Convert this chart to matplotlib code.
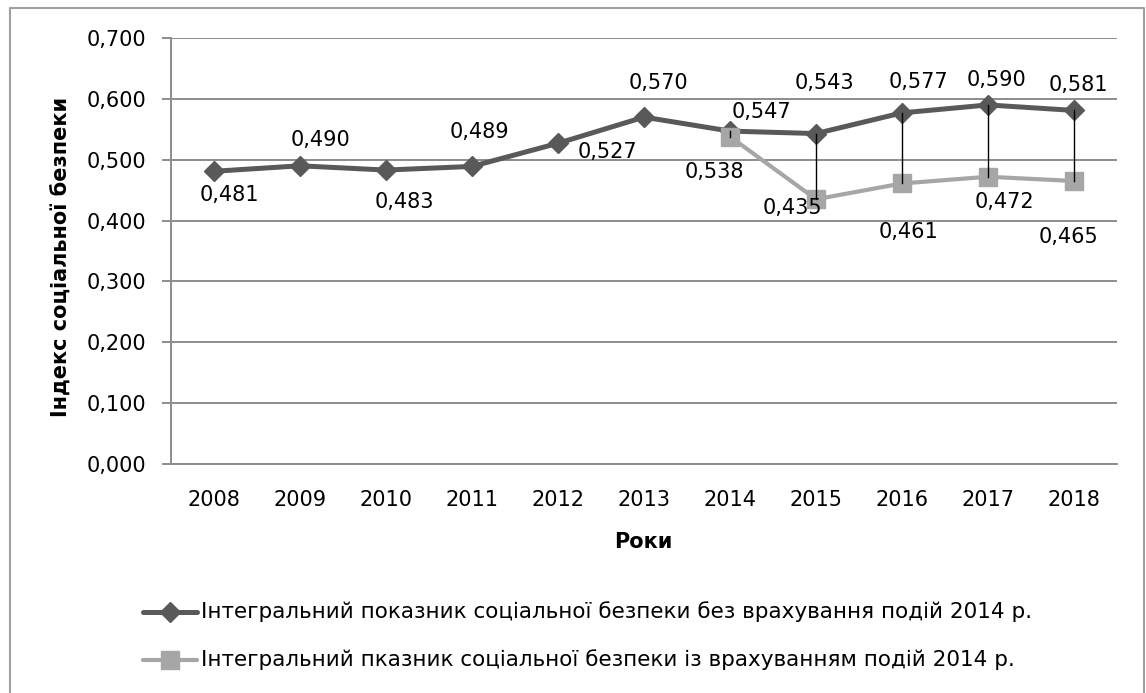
import matplotlib
matplotlib.use("Agg")
import matplotlib.pyplot as plt
from matplotlib.lines import Line2D
from matplotlib.ticker import FuncFormatter

plt.rcParams['font.family'] = ['DejaVu Sans']

# Data
years = ['2008', '2009', '2010', '2011', '2012', '2013', '2014', '2015', '2016', '2017', '2018']
base_index = [0.481, 0.490, 0.483, 0.489, 0.527, 0.570, 0.547, 0.543, 0.577, 0.590, 0.581]
adj_years = ['2014', '2015', '2016', '2017', '2018']
adj_index = [0.538, 0.435, 0.461, 0.472, 0.465]

base_label = 'Інтегральний показник соціальної безпеки без врахування подій 2014 р.'
adj_label = 'Інтегральний пказник соціальної безпеки із врахуванням подій 2014 р.'
x_title = 'Роки'
y_title = 'Індекс соціальної безпеки'

# Label offsets in pixels (dx, dy with y pointing up)
base_offsets = [(15, -24), (20, 26), (18, -32), (7, 34), (49, -9), (14, 34),
                (31, 19), (8, 51), (16, 31), (8, 25), (4, 25)]
adj_offsets = [(-16, -35), (-24, -9), (7, -49), (16, -25), (-6, -56)]

W, H = 1146, 693
DARK = '#595959'
LIGHT = '#A6A6A6'
GRID = '#8C8C8C'
FS = 15

fig = plt.figure(figsize=(W / 100, H / 100), dpi=100)
fig.patch.set_facecolor('white')

# Chart frame (left, top, right)
fx0, fx1, fy0 = 10 / W, 1144 / W, 1 - 8 / H
fig.add_artist(Line2D([fx0, fx0, fx1, fx1], [0, fy0, fy0, 0], transform=fig.transFigure,
                      color='#A0A0A0', lw=1.5))

ax = fig.add_axes([171 / W, 1 - 464 / H, 946 / W, 426 / H])
xb = list(range(len(years)))
xa = [years.index(y) for y in adj_years]

ax.set_xlim(-0.5, len(years) - 0.5)
ax.set_ylim(0, 0.7)
ax.set_yticks([i / 10 for i in range(8)])
ax.yaxis.set_major_formatter(FuncFormatter(lambda v, p: f'{v:.3f}'.replace('.', ',')))
ax.set_xticks(xb)
ax.set_xticklabels(years)
ax.grid(axis='y', color=GRID, lw=1.4)
ax.set_axisbelow(True)
for s in ['top', 'right']:
    ax.spines[s].set_visible(False)
for s in ['left', 'bottom']:
    ax.spines[s].set_color(GRID)
    ax.spines[s].set_linewidth(1.4)
ax.tick_params(axis='y', length=6.5, width=1.4, color=GRID, pad=11, labelsize=FS)
ax.tick_params(axis='x', length=0, pad=19, labelsize=FS)

ax.plot(xb, base_index, color=DARK, lw=3.6, marker='D', ms=10, mec=DARK, mfc=DARK,
        zorder=3, solid_capstyle='round')
ax.plot(xa, adj_index, color=LIGHT, lw=3.0, marker='s', ms=13, mec=LIGHT, mfc=LIGHT,
        zorder=4, solid_capstyle='round')

# High-low lines between the two series
for x, v in zip(xa, adj_index):
    ax.plot([x, x], [base_index[x], v], color='black', lw=1.0, zorder=5)


def fmt(v):
    return f'{v:.3f}'.replace('.', ',')


for x, v, (dx, dy) in zip(xb, base_index, base_offsets):
    ax.annotate(fmt(v), (x, v), xytext=(dx, dy), textcoords='offset pixels',
                ha='center', va='center', fontsize=FS, color='black', zorder=6)
for x, v, (dx, dy) in zip(xa, adj_index, adj_offsets):
    ax.annotate(fmt(v), (x, v), xytext=(dx, dy), textcoords='offset pixels',
                ha='center', va='center', fontsize=FS, color='black', zorder=6)

fig.text(643 / W, 1 - 542 / H, x_title, ha='center', va='center', fontsize=FS,
         fontweight='bold')
fig.text(62 / W, 1 - 257 / H, y_title, ha='center', va='center', fontsize=FS,
         fontweight='bold', rotation=90)

# Legend
for yy, col, mk, ms, lw, lab in [(612, DARK, 'D', 10, 3.6, base_label),
                                 (660, LIGHT, 's', 13, 3.0, adj_label)]:
    fy = 1 - yy / H
    fig.add_artist(Line2D([143 / W, 197 / W], [fy, fy], transform=fig.transFigure,
                          color=col, lw=lw, solid_capstyle='round'))
    fig.add_artist(Line2D([170 / W], [fy], transform=fig.transFigure, color=col,
                          marker=mk, ms=ms, mec=col, mfc=col, lw=0))
    fig.text(201 / W, fy, lab, ha='left', va='center', fontsize=15.5)

fig.savefig('out.png', dpi=100, facecolor='white')
